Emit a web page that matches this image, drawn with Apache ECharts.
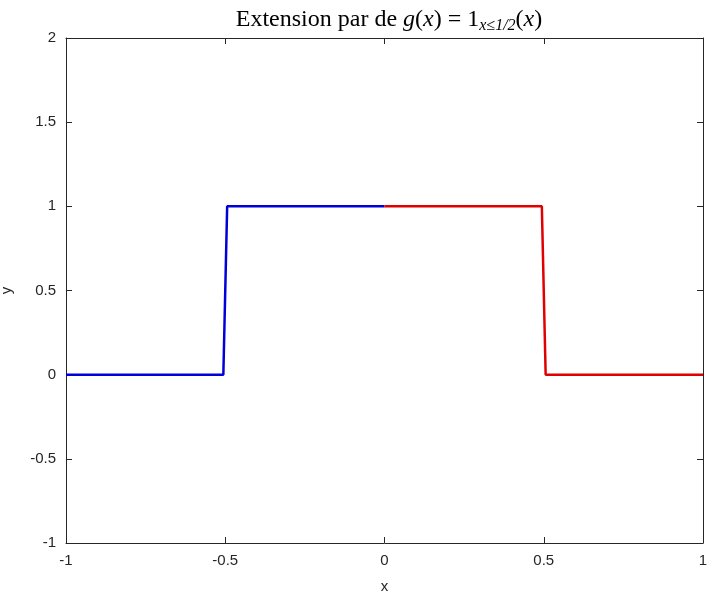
<!DOCTYPE html>
<html><head><meta charset="utf-8">
<script src="https://cdn.jsdelivr.net/npm/echarts@6/dist/echarts.min.js"></script>
<style>html,body{margin:0;padding:0;background:#fff}#c{width:708px;height:600px}</style>
</head><body><div id="c"></div>
<script>
const bluePts = [[-1,0],[-0.506,0],[-0.494,1],[0,1]];
const redPts = [[0,1],[0.494,1],[0.506,0],[1,0]];
const xTicks = [-1,-0.5,0,0.5,1];
const yTicks = [-1,-0.5,0,0.5,1,1.5,2];
const fmt = v => String(v);
const chart = echarts.init(document.getElementById('c'));
const lab = {color:'#262626',fontFamily:'Liberation Sans, Arial',fontSize:15};
const axLine = {show:true,onZero:false,lineStyle:{color:'#262626',width:1}};
const tick = {show:true,inside:true,length:6,lineStyle:{color:'#262626'}};
chart.setOption({
  animation:false,
  title:{text:'{n|Extension par de }{i|g}{n|(}{i|x}{n|) = 1}{s|x≤1/2}{n|(}{i|x}{n|)}',left:384,top:1,textAlign:'center',
    textStyle:{rich:{
      n:{fontFamily:'Liberation Serif, DejaVu Serif',fontWeight:'normal',fontSize:24,color:'#000'},
      i:{fontFamily:'Liberation Serif, DejaVu Serif',fontWeight:'normal',fontStyle:'italic',fontSize:24,color:'#000'},
      s:{fontFamily:'Liberation Serif, DejaVu Serif',fontWeight:'normal',fontStyle:'italic',fontSize:16,color:'#000',verticalAlign:'bottom',padding:[12,0,0,0]}
    }}},
  grid:{left:66,right:5,top:38,bottom:57,containLabel:false,outerBoundsMode:'none'},
  xAxis:[
    {type:'value',min:-1,max:1,interval:0.5,position:'bottom',axisLine:axLine,axisTick:tick,splitLine:{show:false},
     axisLabel:Object.assign({formatter:fmt,margin:10},lab),name:'x',nameLocation:'middle',nameGap:36,nameTextStyle:lab},
    {type:'value',min:-1,max:1,interval:0.5,position:'top',axisLine:axLine,axisTick:tick,splitLine:{show:false},axisLabel:{show:false}}
  ],
  yAxis:[
    {type:'value',min:-1,max:2,interval:0.5,position:'left',axisLine:axLine,axisTick:tick,splitLine:{show:false},
     axisLabel:Object.assign({formatter:fmt,margin:10},lab),name:'y',nameLocation:'middle',nameGap:52,nameTextStyle:lab},
    {type:'value',min:-1,max:2,interval:0.5,position:'right',axisLine:axLine,axisTick:tick,splitLine:{show:false},axisLabel:{show:false}}
  ],
  series:[
    {type:'line',data:bluePts,showSymbol:false,lineStyle:{color:'#0000d9',width:2.5}},
    {type:'line',data:redPts,showSymbol:false,lineStyle:{color:'#e00000',width:2.5}}
  ]
});
</script></body></html>
